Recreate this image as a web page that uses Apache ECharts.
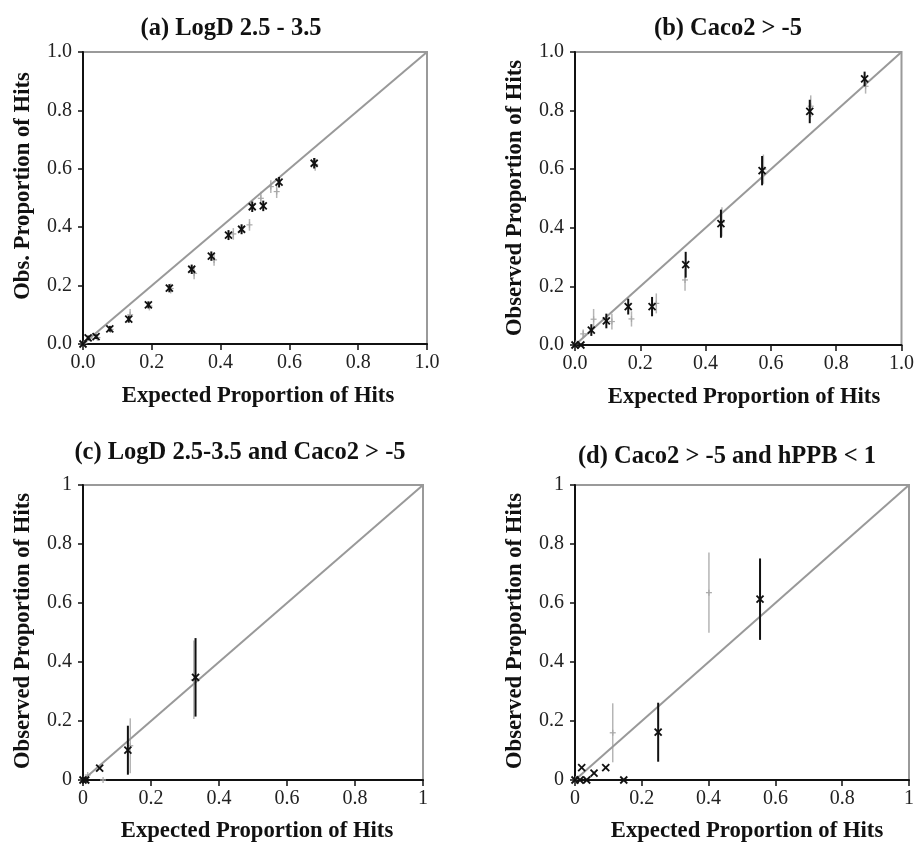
<!DOCTYPE html>
<html>
<head>
<meta charset="utf-8">
<script src="https://cdn.jsdelivr.net/npm/echarts@6/dist/echarts.min.js"></script>
<style>
  html, body { margin: 0; padding: 0; background: #fff; }
  #chart { width: 917px; height: 843px; }
</style>
</head>
<body>
<div id="chart"></div>
<script>
// panel titles and axis names
const panelTitles = [
  "(a) LogD 2.5 - 3.5",
  "(b) Caco2 > -5",
  "(c) LogD 2.5-3.5 and Caco2 > -5",
  "(d) Caco2 > -5 and hPPB < 1",
];
const yNames = [
  "Obs. Proportion of Hits",
  "Observed Proportion of Hits",
  "Observed Proportion of Hits",
  "Observed Proportion of Hits",
];
const xName = "Expected Proportion of Hits";

// (a) LogD 2.5 - 3.5
const aBlackX = [0, 0.015, 0.038, 0.078, 0.133, 0.19, 0.251, 0.316, 0.373, 0.423, 0.461, 0.492, 0.524, 0.570, 0.672];
const aBlackY = [0, 0.021, 0.025, 0.052, 0.085, 0.134, 0.191, 0.256, 0.301, 0.373, 0.393, 0.470, 0.473, 0.554, 0.619];
const aBlackErr = [0.005, 0.008, 0.008, 0.01, 0.012, 0.012, 0.014, 0.016, 0.016, 0.017, 0.017, 0.018, 0.018, 0.018, 0.018];
const aGreyX = [0.004, 0.02, 0.042, 0.08, 0.137, 0.193, 0.255, 0.323, 0.381, 0.437, 0.484, 0.517, 0.546, 0.563, 0.675];
const aGreyY = [0.003, 0.02, 0.022, 0.05, 0.1, 0.13, 0.19, 0.242, 0.288, 0.377, 0.408, 0.499, 0.539, 0.522, 0.615];
const aGreyErr = [0.006, 0.01, 0.01, 0.012, 0.02, 0.015, 0.017, 0.02, 0.02, 0.02, 0.02, 0.022, 0.022, 0.022, 0.022];

// (b) Caco2 > -5
const bBlackX = [0, 0.018, 0.05, 0.096, 0.163, 0.236, 0.339, 0.447, 0.573, 0.719, 0.887];
const bBlackY = [0, 0, 0.051, 0.082, 0.131, 0.131, 0.274, 0.414, 0.595, 0.797, 0.908];
const bBlackErr = [0.004, 0.004, 0.02, 0.025, 0.027, 0.033, 0.044, 0.048, 0.05, 0.04, 0.025];
const bGreyX = [0.003, 0.025, 0.057, 0.113, 0.173, 0.249, 0.337, 0.45, 0.577, 0.722, 0.89];
const bGreyY = [0.005, 0.038, 0.088, 0.08, 0.089, 0.142, 0.222, 0.42, 0.6, 0.815, 0.883];
const bGreyErr = [0.005, 0.015, 0.035, 0.027, 0.026, 0.034, 0.037, 0.05, 0.05, 0.037, 0.025];

// (c) LogD 2.5-3.5 and Caco2 > -5
const cBlackX = [0, 0.008, 0.049, 0.132, 0.331];
const cBlackY = [0, 0, 0.040, 0.101, 0.348];
const cBlackErr = [0, 0, 0, 0.083, 0.133];
const cGreyX = [0.003, 0.014, 0.059, 0.139, 0.326];
const cGreyY = [0.003, 0.017, 0, 0.116, 0.34];
const cGreyErr = [0, 0, 0, 0.093, 0.133];

// (d) Caco2 > -5 and hPPB < 1
const dBlackX = [0, 0.015, 0.035, 0.02, 0.057, 0.092, 0.146, 0.249, 0.554];
const dBlackY = [0, 0, 0, 0.042, 0.023, 0.042, 0, 0.162, 0.613];
const dBlackErr = [0, 0, 0, 0, 0, 0, 0, 0.1, 0.138];
const dGreyX = [0.003, 0.113, 0.401];
const dGreyY = [0.003, 0.16, 0.635];
const dGreyErr = [0, 0.1, 0.136];

const diagonal = [[0, 0], [1, 1]];

const panels = [
  { black: [aBlackX, aBlackY, aBlackErr], grey: [aGreyX, aGreyY, aGreyErr], decimals: true },
  { black: [bBlackX, bBlackY, bBlackErr], grey: [bGreyX, bGreyY, bGreyErr], decimals: true },
  { black: [cBlackX, cBlackY, cBlackErr], grey: [cGreyX, cGreyY, cGreyErr], decimals: false },
  { black: [dBlackX, dBlackY, dBlackErr], grey: [dGreyX, dGreyY, dGreyErr], decimals: false },
];

const gridBoxes = [
  { left: 83, top: 52, width: 344, height: 292 },
  { left: 575, top: 52, width: 332, height: 293 },
  { left: 83, top: 485, width: 340, height: 295 },
  { left: 575, top: 485, width: 338, height: 295 },
];
const titlePos = [
  { x: 231, y: 29 },
  { x: 728, y: 29 },
  { x: 240, y: 453 },
  { x: 727, y: 457 },
];
const xNamePos = [
  { x: 258, y: 396 },
  { x: 744, y: 397 },
  { x: 257, y: 831 },
  { x: 747, y: 831 },
];
const yNamePos = [
  { x: 23, y: 186 },
  { x: 515, y: 198 },
  { x: 23, y: 631 },
  { x: 515, y: 631 },
];

const FONT = "'Liberation Serif', 'Times New Roman', serif";

function zip(cols) {
  return cols[0].map((x, i) => [x, cols[1][i], cols[2][i]]);
}

function renderMark(dark) {
  return function (params, api) {
    const x = api.value(0);
    const y = api.value(1);
    const e = api.value(2);
    const c = api.coord([x, y]);
    const hi = api.coord([x, y + e]);
    const lo = api.coord([x, Math.max(0, y - e)]);
    const children = [];
    if (e > 0) {
      children.push({
        type: "line",
        shape: { x1: c[0], y1: hi[1], x2: c[0], y2: lo[1] },
        style: { stroke: dark ? "#111" : "#b5b5b5", lineWidth: dark ? 2 : 1.5 },
      });
    }
    if (dark) {
      const s = 3.5;
      children.push(
        { type: "line", shape: { x1: c[0] - s, y1: c[1] - s, x2: c[0] + s, y2: c[1] + s }, style: { stroke: "#111", lineWidth: 1.8 } },
        { type: "line", shape: { x1: c[0] - s, y1: c[1] + s, x2: c[0] + s, y2: c[1] - s }, style: { stroke: "#111", lineWidth: 1.8 } }
      );
    } else {
      const s = 3;
      children.push(
        { type: "line", shape: { x1: c[0] - s, y1: c[1], x2: c[0] + s, y2: c[1] }, style: { stroke: "#a8a8a8", lineWidth: 1.2 } },
        { type: "line", shape: { x1: c[0], y1: c[1] - s, x2: c[0], y2: c[1] + s }, style: { stroke: "#a8a8a8", lineWidth: 1.2 } }
      );
    }
    return { type: "group", children };
  };
}

function axisLabelFmt(decimals) {
  return (v) => {
    if (decimals) return v.toFixed(1);
    if (v === 0) return "0";
    if (v === 1) return "1";
    return v.toFixed(1);
  };
}

const grid = gridBoxes.map((b) => ({
  ...b,
  show: true,
  borderColor: "#9a9a9a",
  borderWidth: 2,
  backgroundColor: "transparent",
}));

const xAxis = panels.map((p, i) => ({
  type: "value",
  gridIndex: i,
  min: 0,
  max: 1,
  interval: 0.2,
  axisLine: { onZero: false, lineStyle: { color: "#111", width: 2 } },
  axisTick: { show: true, inside: false, length: 6, lineStyle: { color: "#111", width: 1.5 } },
  axisLabel: { formatter: axisLabelFmt(p.decimals), fontFamily: FONT, fontSize: 20, color: "#222", margin: 9 },
  splitLine: { show: false },
}));

const yAxis = panels.map((p, i) => ({
  type: "value",
  gridIndex: i,
  min: 0,
  max: 1,
  interval: 0.2,
  axisLine: { onZero: false, lineStyle: { color: "#111", width: 2 } },
  axisTick: { show: true, inside: false, length: 5, lineStyle: { color: "#111", width: 1.5 } },
  axisLabel: { formatter: axisLabelFmt(p.decimals), fontFamily: FONT, fontSize: 20, color: "#222", margin: 11 },
  splitLine: { show: false },
}));

const series = [];
panels.forEach((p, i) => {
  series.push({
    type: "custom",
    name: "grey " + i,
    xAxisIndex: i,
    yAxisIndex: i,
    z: 2,
    renderItem: renderMark(false),
    data: zip(p.grey),
  });
  series.push({
    type: "line",
    xAxisIndex: i,
    yAxisIndex: i,
    z: 3,
    symbol: "none",
    data: diagonal,
    lineStyle: { color: "#999", width: 2 },
  });
  series.push({
    type: "custom",
    name: "black " + i,
    xAxisIndex: i,
    yAxisIndex: i,
    z: 4,
    renderItem: renderMark(true),
    data: zip(p.black),
  });
});

const textStyle = (size) => ({
  font: "bold " + size + "px " + FONT,
  fill: "#111",
  textAlign: "center",
  textVerticalAlign: "middle",
});

const graphic = [];
panelTitles.forEach((t, i) => {
  graphic.push({ type: "text", x: titlePos[i].x, y: titlePos[i].y, style: { text: t, ...textStyle(24.5) } });
  graphic.push({ type: "text", x: xNamePos[i].x, y: xNamePos[i].y, style: { text: xName, ...textStyle(22.7) } });
  graphic.push({
    type: "text",
    x: yNamePos[i].x,
    y: yNamePos[i].y,
    rotation: Math.PI / 2,
    style: { text: yNames[i], ...textStyle(22.7) },
  });
});

const chart = echarts.init(document.getElementById("chart"), null, { renderer: "canvas" });
chart.setOption({
  animation: false,
  backgroundColor: "#fff",
  grid,
  xAxis,
  yAxis,
  series,
  graphic,
});
</script>
</body>
</html>
